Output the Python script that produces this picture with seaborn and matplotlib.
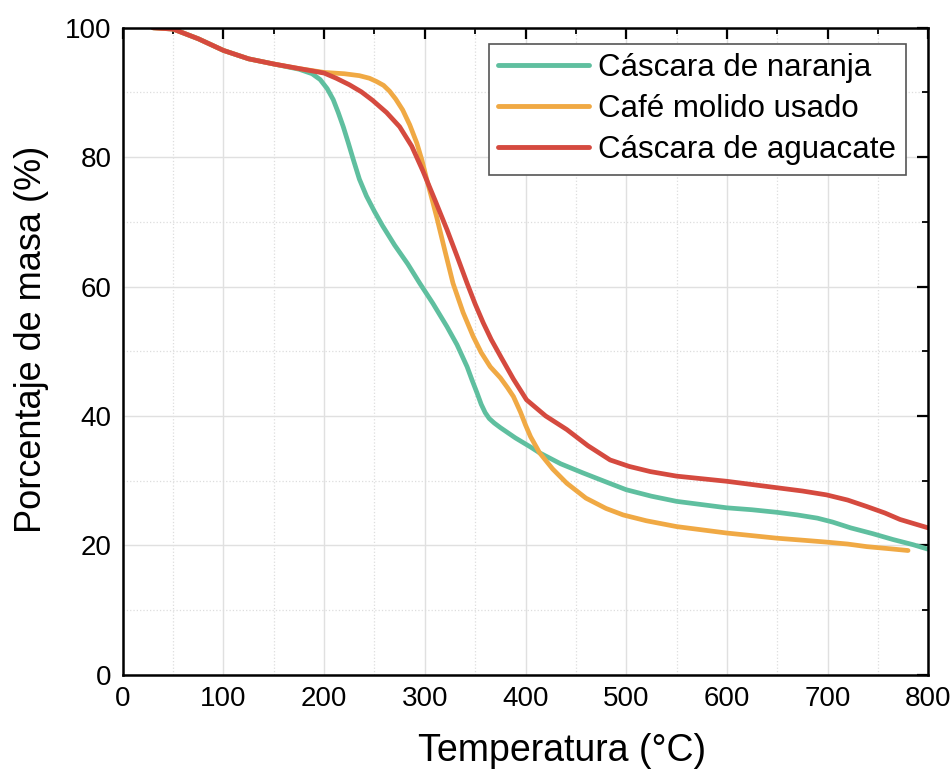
import numpy as np
import pandas as pd
import matplotlib
matplotlib.use("Agg")
import matplotlib.pyplot as plt
import seaborn as sns
from matplotlib.ticker import MultipleLocator

series_names = ["Cáscara de naranja", "Café molido usado", "Cáscara de aguacate"]

naranja_x = [30, 50, 75, 100, 125, 150, 175, 188, 196, 203, 209, 214, 219, 224, 229, 235, 242, 250, 258, 270,
             283, 295, 308, 322, 332, 342, 347, 352, 356, 360, 364, 369, 375, 390, 405, 414, 435, 457, 480,
             500, 525, 550, 575, 600, 625, 650, 670, 690, 705, 723, 745, 765, 785, 800]
naranja_y = [100, 99.8, 98.3, 96.5, 95.2, 94.4, 93.6, 92.9, 92.0, 90.6, 88.9, 86.9, 84.7, 82.2, 79.6, 76.6, 74.0, 71.6, 69.4, 66.4,
             63.5, 60.5, 57.4, 53.8, 51.0, 47.6, 45.5, 43.5, 41.8, 40.5, 39.6, 38.9, 38.2, 36.6, 35.2, 34.3, 32.6, 31.2, 29.8,
             28.6, 27.6, 26.8, 26.3, 25.8, 25.5, 25.1, 24.7, 24.2, 23.6, 22.7, 21.8, 20.9, 20.1, 19.4]

cafe_x = [30, 50, 75, 100, 125, 150, 175, 200, 220, 235, 245, 252, 259, 265, 271, 278, 285, 292, 297, 302, 307,
          312, 320, 328, 338, 348, 356, 365, 375, 382, 388, 395, 400, 405, 414, 427, 441, 460, 480, 497,
          520, 550, 575, 600, 625, 650, 675, 699, 720, 739, 760, 780]
cafe_y = [100, 99.8, 98.3, 96.5, 95.2, 94.4, 93.7, 93.1, 92.9, 92.6, 92.2, 91.7, 91.1, 90.2, 89.0, 87.3, 85.0, 82.2, 79.6, 76.5, 73.6,
          70.6, 65.5, 60.5, 56.0, 52.3, 49.8, 47.6, 45.9, 44.4, 43.0, 40.6, 38.6, 36.8, 34.3, 31.8, 29.6, 27.3, 25.7, 24.7,
          23.8, 22.9, 22.4, 21.9, 21.5, 21.1, 20.8, 20.5, 20.2, 19.8, 19.5, 19.2]

aguacate_x = [30, 50, 75, 100, 125, 150, 175, 200, 212, 225, 237, 248, 262, 275, 287, 298, 310, 322, 332, 342, 350,
              358, 366, 376, 388, 401, 420, 441, 462, 484, 503, 524, 550, 575, 600, 625, 650, 675, 699, 720,
              739, 757, 772, 787, 800]
aguacate_y = [100, 99.8, 98.3, 96.5, 95.2, 94.4, 93.7, 93.0, 92.2, 91.2, 90.1, 88.8, 86.9, 84.7, 81.7, 77.9, 73.4, 68.8, 64.7, 60.5, 57.3,
              54.4, 51.8, 49.0, 45.7, 42.5, 40.0, 37.9, 35.4, 33.2, 32.2, 31.4, 30.7, 30.3, 29.9, 29.4, 28.9, 28.4, 27.8, 27.0,
              26.0, 25.0, 24.0, 23.3, 22.7]

colors = ["#5fbf9f", "#f0a944", "#d54a3f"]

df = pd.concat([
    pd.DataFrame({"T": naranja_x, "M": naranja_y, "Muestra": series_names[0]}),
    pd.DataFrame({"T": cafe_x, "M": cafe_y, "Muestra": series_names[1]}),
    pd.DataFrame({"T": aguacate_x, "M": aguacate_y, "Muestra": series_names[2]}),
], ignore_index=True)

sns.set_style("white")
plt.rcParams["font.family"] = ["Liberation Sans", "DejaVu Sans"]
plt.rcParams["text.color"] = "black"
plt.rcParams["axes.labelcolor"] = "black"

fig = plt.figure(figsize=(9.52, 7.72), dpi=100)
ax = fig.add_axes([0.129, 0.126, 0.846, 0.838])

sns.lineplot(data=df, x="T", y="M", hue="Muestra", palette=colors, sort=False,
             linewidth=3.4, ax=ax, estimator=None)

ax.set_xlim(0, 800)
ax.set_ylim(0, 100)
ax.xaxis.set_major_locator(MultipleLocator(100))
ax.xaxis.set_minor_locator(MultipleLocator(50))
ax.yaxis.set_major_locator(MultipleLocator(20))
ax.yaxis.set_minor_locator(MultipleLocator(10))

ax.grid(which="major", color="#e0e0e0", linewidth=1.0, linestyle="-")
ax.grid(which="minor", color="#dddddd", linewidth=0.9, linestyle=":")
ax.set_axisbelow(True)

for s in ax.spines.values():
    s.set_visible(True)
    s.set_color("black")
    s.set_linewidth(1.8)

ax.tick_params(which="major", direction="in", length=8, width=1.6, top=True, right=True,
               labelsize=20, pad=8, colors="black")
ax.tick_params(which="minor", direction="in", length=4, width=1.3, top=True, right=True, colors="black")

ax.set_xlabel("Temperatura (°C)", fontsize=27, color="black")
ax.set_ylabel("Porcentaje de masa (%)", fontsize=26, color="black")
ax.xaxis.set_label_coords(0.545, -0.09)
ax.yaxis.set_label_coords(-0.092, 0.518)

leg = ax.legend(loc="upper right", bbox_to_anchor=(0.972, 0.975), fontsize=22.5,
                frameon=True, fancybox=False, edgecolor="#555555", framealpha=1,
                handlelength=2.9, handletextpad=0.3, labelspacing=0.35,
                borderpad=0.3, borderaxespad=0.0, title=None)
leg.get_frame().set_linewidth(1.2)
for line in leg.get_lines():
    line.set_linewidth(3.5)
for t in leg.get_texts():
    t.set_color("black")

fig.savefig("out.png", dpi=100)
